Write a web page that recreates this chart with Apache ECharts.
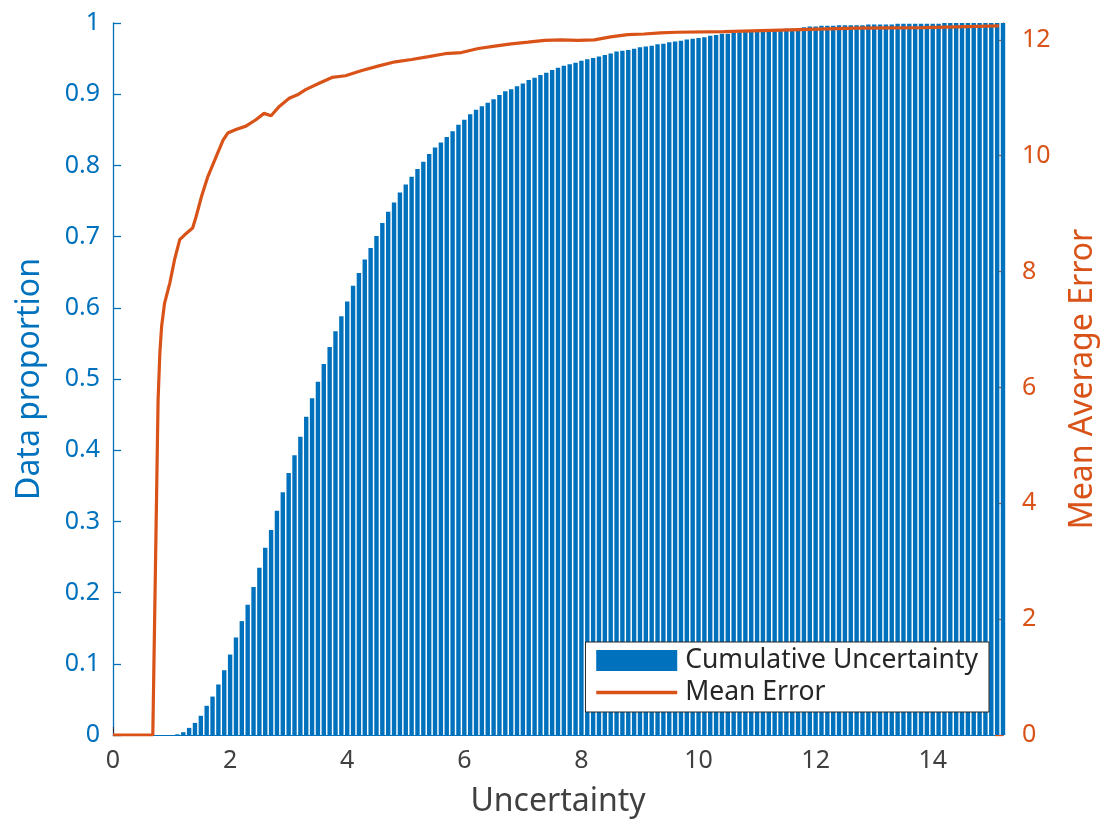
<!DOCTYPE html>
<html>
<head>
<meta charset="utf-8">
<script src="https://cdn.jsdelivr.net/npm/echarts@6/dist/echarts.min.js"></script>
<style>
html,body{margin:0;padding:0;background:#fff;}
#chart{width:1107px;height:823px;}
</style>
</head>
<body>
<div id="chart"></div>
<script>
// Bar centres (Uncertainty) and cumulative data proportion
const uncertainty = [
 0.1,0.2,0.3,0.4,0.5,0.6,0.7,0.8,0.9,1.0,
 1.1,1.2,1.3,1.4,1.5,1.6,1.7,1.8,1.9,2.0,
 2.1,2.2,2.3,2.4,2.5,2.6,2.7,2.8,2.9,3.0,
 3.1,3.2,3.3,3.4,3.5,3.6,3.7,3.8,3.9,4.0,
 4.1,4.2,4.3,4.4,4.5,4.6,4.7,4.8,4.9,5.0,
 5.1,5.2,5.3,5.4,5.5,5.6,5.7,5.8,5.9,6.0,
 6.1,6.2,6.3,6.4,6.5,6.6,6.7,6.8,6.9,7.0,
 7.1,7.2,7.3,7.4,7.5,7.6,7.7,7.8,7.9,8.0,
 8.1,8.2,8.3,8.4,8.5,8.6,8.7,8.8,8.9,9.0,
 9.1,9.2,9.3,9.4,9.5,9.6,9.7,9.8,9.9,10.0,
 10.1,10.2,10.3,10.4,10.5,10.6,10.7,10.8,10.9,11.0,
 11.1,11.2,11.3,11.4,11.5,11.6,11.7,11.8,11.9,12.0,
 12.1,12.2,12.3,12.4,12.5,12.6,12.7,12.8,12.9,13.0,
 13.1,13.2,13.3,13.4,13.5,13.6,13.7,13.8,13.9,14.0,
 14.1,14.2,14.3,14.4,14.5,14.6,14.7,14.8,14.9,15.0,
 15.1,15.2
];
const cumulativeProportion = [
 0,0,0,0,0,0,0,0,0,0,
 0.001,0.004,0.010,0.017,0.027,0.041,0.054,0.071,0.091,0.113,
 0.137,0.160,0.183,0.208,0.235,0.263,0.288,0.315,0.341,0.368,
 0.393,0.419,0.447,0.473,0.496,0.521,0.545,0.567,0.588,0.609,
 0.631,0.649,0.668,0.684,0.701,0.719,0.735,0.748,0.762,0.773,
 0.784,0.795,0.805,0.816,0.825,0.832,0.840,0.848,0.857,0.864,
 0.872,0.878,0.883,0.888,0.893,0.899,0.904,0.907,0.911,0.915,
 0.920,0.923,0.927,0.930,0.934,0.937,0.940,0.942,0.944,0.947,
 0.949,0.951,0.953,0.955,0.957,0.960,0.961,0.962,0.964,0.966,
 0.967,0.968,0.970,0.971,0.973,0.974,0.975,0.977,0.978,0.979,
 0.980,0.982,0.983,0.985,0.985,0.986,0.987,0.988,0.988,0.989,
 0.990,0.990,0.991,0.991,0.992,0.992,0.993,0.994,0.995,0.995,
 0.996,0.996,0.996,0.997,0.997,0.997,0.997,0.997,0.998,0.998,
 0.998,0.998,0.998,0.999,0.999,0.999,0.999,0.999,0.999,0.999,
 0.999,1.000,1.000,1.000,1.000,1.000,1.000,1.000,1.000,1.000,
 1.000,1.000
];
// Mean error curve
const errX = [0,0.68,0.77,0.80,0.83,0.88,0.97,1.05,1.14,1.22,1.36,1.42,1.51,1.62,1.76,1.88,1.96,2.10,2.27,2.44,2.58,2.70,2.84,3.01,3.15,3.29,3.52,3.74,3.97,4.25,4.54,4.82,5.10,5.39,5.67,5.95,6.24,6.52,6.80,7.09,7.37,7.65,7.94,8.22,8.50,8.79,9.07,9.35,9.63,10.43,11.56,12.69,13.83,15.13];
const errY = [0,0,5.78,6.59,7.05,7.45,7.80,8.20,8.55,8.63,8.75,8.95,9.29,9.64,9.98,10.27,10.39,10.45,10.51,10.62,10.73,10.69,10.85,10.99,11.05,11.14,11.25,11.35,11.38,11.47,11.55,11.62,11.66,11.71,11.76,11.78,11.85,11.89,11.93,11.96,11.99,12.00,11.99,12.00,12.05,12.09,12.10,12.12,12.13,12.14,12.17,12.20,12.21,12.24];

const BLUE = '#0072BD', ORANGE = '#D95319', DARK = '#262626', GRAY = '#404040';
const FONT = 'Noto Sans';

const chart = echarts.init(document.getElementById('chart'));
chart.setOption({
  animation: false,
  backgroundColor: '#fff',
  textStyle: { fontFamily: FONT },
  grid: { left: 113, right: 100, top: 23, bottom: 88, containLabel: false },
  legend: {
    orient: 'vertical',
    right: 118, bottom: 111,
    backgroundColor: '#fff',
    borderColor: DARK, borderWidth: 1, borderRadius: 0,
    padding: [5, 11, 6, 9],
    itemGap: 5,
    itemWidth: 81, itemHeight: 21,
    textStyle: { fontFamily: FONT, fontSize: 26.5, color: DARK, padding: [0, 0, 0, 3] },
    data: [
      { name: 'Cumulative Uncertainty', icon: 'rect' },
      { name: 'Mean Error', itemStyle: { color: 'transparent', borderWidth: 0, opacity: 0 }, lineStyle: { width: 3.5, color: ORANGE } }
    ]
  },
  xAxis: {
    type: 'value', min: 0, max: 15.2, interval: 2,
    name: 'Uncertainty', nameLocation: 'middle', nameGap: 51,
    nameTextStyle: { fontFamily: FONT, fontSize: 32, color: GRAY },
    axisLine: { lineStyle: { color: BLUE, width: 1 } },
    axisTick: { inside: true, length: 8, lineStyle: { color: DARK } },
    axisLabel: { fontFamily: FONT, fontSize: 25, color: GRAY, margin: 13, showMaxLabel: false },
    splitLine: { show: false }
  },
  yAxis: [
    {
      type: 'value', min: 0, max: 1, interval: 0.1, position: 'left',
      name: 'Data proportion', nameLocation: 'middle', nameGap: 67, nameRotate: 90,
      nameTextStyle: { fontFamily: FONT, fontSize: 32, color: BLUE },
      axisLine: { show: true, lineStyle: { color: BLUE, width: 1.3 } },
      axisTick: { show: true, inside: true, length: 8, lineStyle: { color: BLUE, width: 1.3 } },
      axisLabel: { fontFamily: FONT, fontSize: 25, color: BLUE, margin: 13 },
      splitLine: { show: false }
    },
    {
      type: 'value', min: 0, max: 12.29, interval: 2, position: 'right',
      name: 'Mean Average Error', nameLocation: 'middle', nameGap: 64, nameRotate: 90,
      nameTextStyle: { fontFamily: FONT, fontSize: 32, color: ORANGE },
      axisLine: { show: true, lineStyle: { color: ORANGE, width: 1.3 } },
      axisTick: { show: true, inside: true, length: 8, lineStyle: { color: ORANGE, width: 1.3 } },
      axisLabel: { fontFamily: FONT, fontSize: 25, color: ORANGE, margin: 19, showMaxLabel: false },
      splitLine: { show: false }
    }
  ],
  series: [
    {
      name: 'Cumulative Uncertainty', type: 'bar', yAxisIndex: 0,
      barWidth: 4.4,
      itemStyle: { color: BLUE },
      data: uncertainty.map((u, i) => [u, cumulativeProportion[i]]),
      clip: true
    },
    {
      name: 'Mean Error', type: 'line', yAxisIndex: 1,
      symbol: 'none', showSymbol: false,
      lineStyle: { color: ORANGE, width: 3.2 },
      itemStyle: { color: ORANGE },
      data: errX.map((x, i) => [x, errY[i]]),
      z: 5
    }
  ]
});
</script>
</body>
</html>
